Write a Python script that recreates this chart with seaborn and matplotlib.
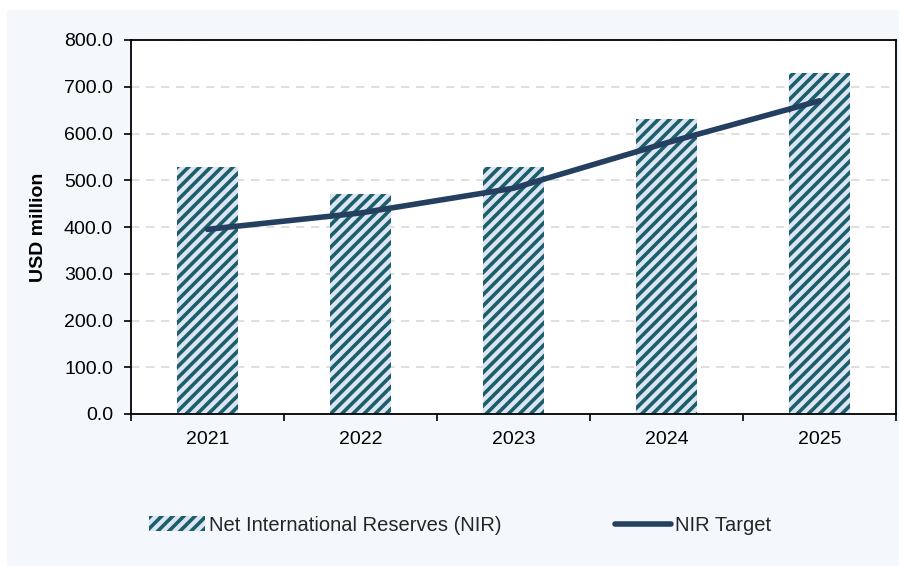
import matplotlib
matplotlib.use("Agg")
import matplotlib.pyplot as plt
import seaborn as sns
import pandas as pd
from matplotlib.patches import Rectangle
from matplotlib.ticker import FixedLocator, FormatStrFormatter

years = ["2021", "2022", "2023", "2024", "2025"]
nir_values = [528, 470, 528, 631, 729]
target_values = [395, 430, 483, 580, 670]
y_ticks = [0, 100, 200, 300, 400, 500, 600, 700, 800]

sns.set_theme(style="white")
plt.rcParams["font.family"] = ["Liberation Sans", "DejaVu Sans"]
plt.rcParams["hatch.linewidth"] = 2.6

df = pd.DataFrame({"Year": years, "NIR": nir_values, "Target": target_values})

fig = plt.figure(figsize=(8.99, 5.66), dpi=100, facecolor="white")
fig.patches.append(Rectangle((7 / 899, 0), 1 - 7 / 899, 1 - 10 / 566,
                             transform=fig.transFigure, facecolor="#F4F8FC",
                             edgecolor="none", zorder=-10))
ax = fig.add_axes([131 / 899, 1 - 414 / 566, (896 - 131) / 899, (414 - 40) / 566])
ax.set_facecolor("white")

sns.barplot(data=df, x="Year", y="NIR", ax=ax, width=0.4, color="#DCE6F2",
            label="Net International Reserves (NIR)", zorder=2)
for p in ax.patches:
    p.set_hatch("///")
    p.set_edgecolor("#1D5E6C")
    p.set_linewidth(0)
    p.set_facecolor("#DCE6F2")

sns.lineplot(data=df, x="Year", y="Target", ax=ax, color="#243F60", linewidth=4.0,
             sort=False, label="NIR Target", zorder=4)
for ln in ax.lines:
    ln.set_solid_capstyle("round")

ax.set_xlim(-0.5, 4.5)
ax.set_ylim(0, 800)
ax.yaxis.set_major_locator(FixedLocator(y_ticks))
ax.yaxis.set_major_formatter(FormatStrFormatter("%.1f"))
ax.grid(axis="y", color="#D9D9D9", linestyle=(0, (5, 4)), linewidth=1.2, zorder=0)
ax.set_axisbelow(True)

for s in ax.spines.values():
    s.set_visible(True)
    s.set_color("black")
    s.set_linewidth(1.3)

fs = 14
ax.tick_params(axis="y", which="major", left=True, length=5, width=1.2,
               direction="out", labelsize=fs, color="black", labelcolor="black", pad=8)
ax.tick_params(axis="x", which="major", length=0, labelsize=fs, labelcolor="black", pad=12)
ax.set_xticks([-0.5, 0.5, 1.5, 2.5, 3.5, 4.5], minor=True)
ax.tick_params(axis="x", which="minor", bottom=True, length=5, width=1.2,
               direction="out", color="black")

ax.set_xlabel("")
ax.set_ylabel("USD million", fontsize=fs, fontweight="bold", color="black", labelpad=12)

handles, labels = ax.get_legend_handles_labels()
order = [labels.index("Net International Reserves (NIR)"), labels.index("NIR Target")]
handles = [handles[i] for i in order]
labels = [labels[i] for i in order]
leg = ax.legend(handles, labels, loc="center", bbox_to_anchor=(0.43, -0.297),
                ncol=2, frameon=False, fontsize=14.5, handlelength=2.8,
                handleheight=0.7, handletextpad=0.2, columnspacing=5.6)

fig.savefig("out.png", dpi=100, facecolor=fig.get_facecolor())
